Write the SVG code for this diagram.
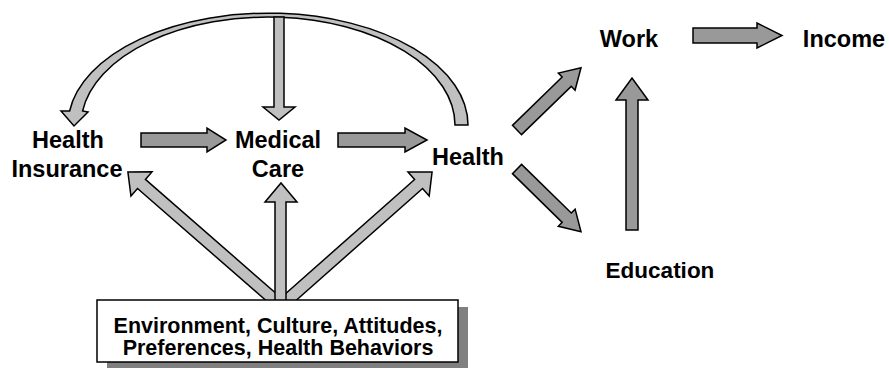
<svg xmlns="http://www.w3.org/2000/svg" width="889" height="369" viewBox="0 0 889 369">
<style>
.lbl{font-family:"Liberation Sans",Arial,sans-serif;font-weight:bold;font-size:23.5px;fill:#000;text-anchor:middle}
.box{font-family:"Liberation Sans",Arial,sans-serif;font-weight:bold;font-size:21.5px;fill:#000;text-anchor:middle}
.lt{fill:#c0c0c0;stroke:#000;stroke-width:1.5;stroke-linejoin:miter}
.dk{fill:#999999;stroke:#000;stroke-width:1.5;stroke-linejoin:miter}
</style>
<rect width="889" height="369" fill="#fff"/>
<g id="connectors">
<path class="lt" d="M468,125 A200,112 0 0 0 69.6,111 L61,111 L74,126 L88,112 L82.6,111 A187,108 0 0 1 455,125 Z"/>
<polygon class="lt" points="274,17 284,17 284,107 295,107 279,120 263,107 274,107"/>
<polygon class="dk" points="141,133 207,133 207,128 226,140 207,152 207,147 141,147"/>
<polygon class="dk" points="338,133 405,133 405,128 427,140 405,152 405,147 338,147"/>
<polygon class="lt" transform="translate(281.4,306) rotate(221.1)" points="0,-6 185.7,-6 185.7,-16 203.7,0 185.7,16 185.7,6 0,6"/>
<polygon class="lt" transform="translate(280.7,306) rotate(-41.5)" points="0,-6 184.1,-6 184.1,-16 202.1,0 184.1,16 184.1,6 0,6"/>
<polygon class="lt" points="275,306 275,202 265,202 281,183 297,202 286,202 286,306"/>
<polygon class="dk" transform="translate(517,130) rotate(-44.2)" points="0,-6.5 69.3,-6.5 69.3,-12 89.3,0 69.3,12 69.3,6.5 0,6.5"/>
<polygon class="dk" transform="translate(517,169) rotate(44.4)" points="0,-6.5 69.6,-6.5 69.6,-12 89.6,0 69.6,12 69.6,6.5 0,6.5"/>
<polygon class="dk" points="626,230 626,100 616,100 632,78 648,100 638,100 638,230"/>
<polygon class="dk" points="693,28 757,28 757,23 782,35.5 757,48 757,43 693,43"/>
</g>
<g id="node-insurance"><text class="lbl" x="68" y="148">Health</text><text class="lbl" x="67" y="177">Insurance</text></g>
<g id="node-medical"><text class="lbl" x="278" y="148">Medical</text><text class="lbl" x="278" y="177">Care</text></g>
<g id="node-health"><text class="lbl" x="468" y="165">Health</text></g>
<g id="node-work"><text class="lbl" x="629" y="47">Work</text></g>
<g id="node-income"><text class="lbl" x="844" y="47">Income</text></g>
<g id="node-education"><text class="lbl" x="660" y="278" style="font-size:22.5px">Education</text></g>
<g id="node-environment">
<rect x="107" y="307" width="361" height="61" fill="#808080"/>
<rect x="97" y="300" width="361" height="62" fill="#fff" stroke="#000" stroke-width="1.5"/>
<text class="box" x="278" y="333">Environment, Culture, Attitudes,</text>
<text class="box" x="278" y="355">Preferences, Health Behaviors</text>
</g>
</svg>
